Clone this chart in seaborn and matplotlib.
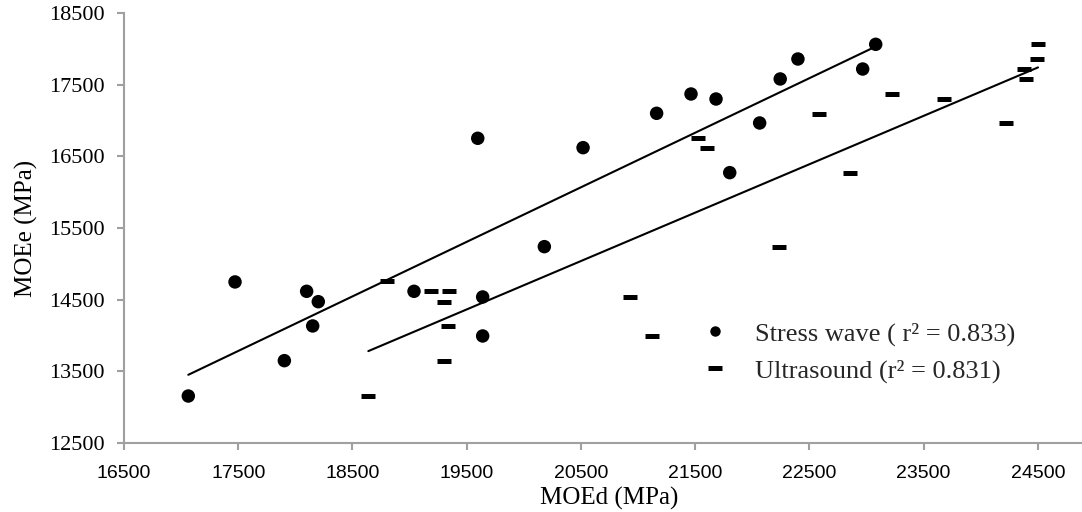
import matplotlib
matplotlib.use("Agg")
import matplotlib.pyplot as plt
import seaborn as sns
from matplotlib.lines import Line2D

# Dynamic MOE (MOEd) vs. static MOE (MOEe), both in MPa
stress_moed = [17063, 17472, 18099, 18201, 18152, 17904, 19039, 19640, 19640, 20180,
               19597, 20519, 21163, 21464, 21683, 22065, 22245, 22400, 21803, 22967, 23081]
stress_moee = [13152, 14746, 14615, 14470, 14131, 13646, 14615, 14536, 13991, 15239,
               16753, 16622, 17102, 17372, 17302, 16967, 17582, 17861, 16273, 17721, 18066]

ultra_moed = [18800, 18639, 19185, 19345, 19304, 19339, 19304, 20930, 21125, 21522,
              21601, 22231, 22581, 23226, 23679, 22853, 24219, 24382, 24394, 24490, 24502]
ultra_moee = [14760, 13157, 14615, 14615, 14470, 14131, 13646, 14540, 13995, 16753,
              16622, 15239, 17097, 17376, 17306, 16273, 16971, 17721, 17582, 17861, 18066]

x_ticks = [16500, 17500, 18500, 19500, 20500, 21500, 22500, 23500, 24500]
y_ticks = [12500, 13500, 14500, 15500, 16500, 17500, 18500]
series_labels = ["Stress wave ( r\u00b2 = 0.833)", "Ultrasound (r\u00b2 = 0.831)"]

sns.set_style("white")
plt.rcParams["font.family"] = ["Liberation Serif", "DejaVu Serif"]

fig = plt.figure(figsize=(10.82, 5.12), dpi=100)
ax = fig.add_axes([0.1146, 0.1354, 0.8854, 0.8387])

# points
sns.scatterplot(x=stress_moed, y=stress_moee, marker="o", s=94, color="black",
                edgecolor="none", ax=ax, zorder=3)
sns.scatterplot(x=ultra_moed, y=ultra_moee, marker="_", s=88, color="black",
                linewidth=3.6, ax=ax, zorder=3)

# least-squares trend lines
sns.regplot(x=stress_moed, y=stress_moee, scatter=False, ci=None, truncate=True,
            color="black", line_kws={"lw": 1.5}, ax=ax)
sns.regplot(x=ultra_moed, y=ultra_moee, scatter=False, ci=None, truncate=True,
            color="black", line_kws={"lw": 1.5}, ax=ax)

ax.set_xlim(16500, 24887)
ax.set_ylim(12500, 18500)
ax.set_xticks(x_ticks, labels=[str(v) for v in x_ticks],
              fontfamily="Liberation Sans", fontsize=14)
ax.set_yticks(y_ticks, labels=[str(v) for v in y_ticks],
              fontfamily="Liberation Serif", fontsize=16)

for side in ("top", "right"):
    ax.spines[side].set_visible(False)
for side in ("left", "bottom"):
    ax.spines[side].set_color("#a0a0a0")
    ax.spines[side].set_linewidth(1.5)
ax.tick_params(bottom=True, left=True, direction="out", length=5, width=1.5,
               color="#a0a0a0", labelcolor="black")
ax.tick_params(axis="x", pad=11)
ax.tick_params(axis="y", pad=9)

ax.set_xlabel("MOEd (MPa)", fontsize=18, color="black")
ax.set_ylabel("MOEe (MPa)", fontsize=18, color="black")
ax.xaxis.set_label_coords(0.506, -0.103)
ax.yaxis.set_label_coords(-0.090, 0.5)

handles = [
    Line2D([], [], ls="none", marker="o", markersize=7.5, color="black", markeredgewidth=0),
    Line2D([], [], ls="none", marker="_", markersize=9.4, color="black", markeredgewidth=3.6),
]
ax.legend(handles, series_labels, frameon=False, fontsize=19,
          loc="upper left", bbox_to_anchor=(699 / 1082, 1 - 322 / 512),
          bbox_transform=fig.transFigure, handlelength=1.2, handletextpad=0.93,
          labelspacing=0.5, borderaxespad=0, borderpad=0)

fig.savefig("out.png", dpi=100)
